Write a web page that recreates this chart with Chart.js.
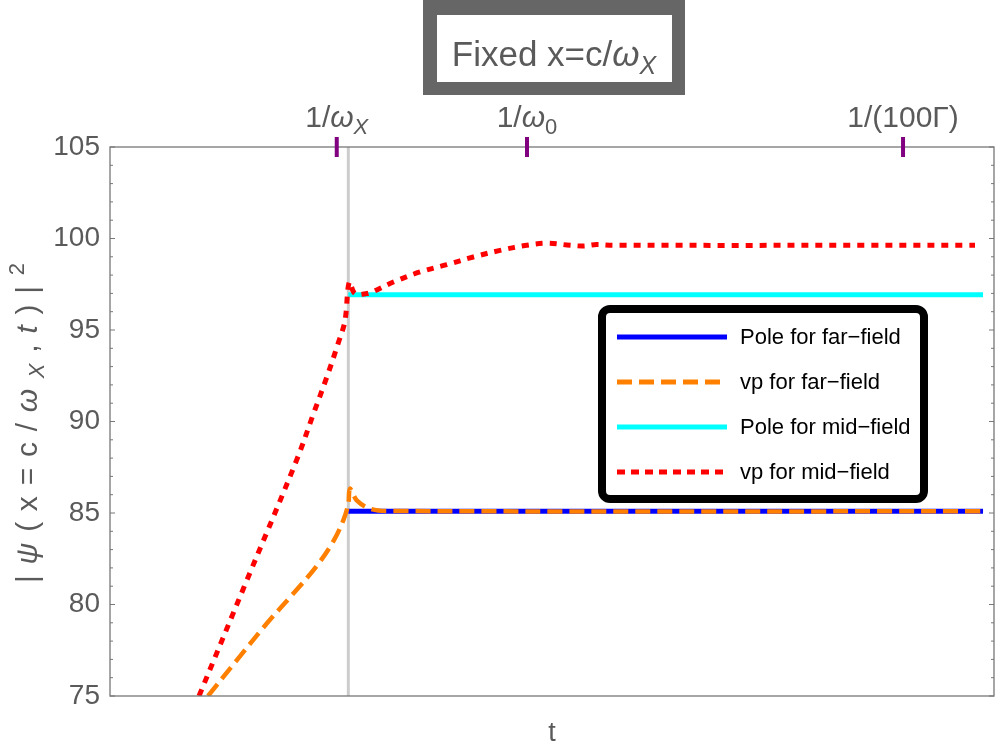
<!DOCTYPE html>
<html>
<head>
<meta charset="utf-8">
<script src="https://cdn.jsdelivr.net/npm/chart.js@4.4.1/dist/chart.umd.min.js"></script>
<style>
html, body { margin: 0; padding: 0; background: #fff; }
canvas { display: block; }
</style>
</head>
<body>
<canvas id="psi-chart" width="1000" height="749"></canvas>
<script>
// time in arbitrary units, 0..100 across the frame
const tVpMid = [10.07, 15.46, 21.12, 23.0, 24.51, 25.83, 26.58, 27.07, 27.71, 29.04, 29.79, 32.05, 35.07, 38.09, 41.1, 44.12, 47.14, 49.4, 52.04, 53.54, 55.06, 56.9, 97.85];
const vpMid  = [75.0, 81.3, 87.9, 90.4, 92.4, 94.3, 95.5, 97.62, 96.99, 96.99, 97.11, 97.62, 98.17, 98.57, 98.99, 99.35, 99.63, 99.74, 99.63, 99.59, 99.67, 99.63, 99.63];
const tVpFar = [11.09, 14.33, 17.73, 20.74, 23.38, 25.26, 26.39, 26.96, 27.15, 27.91, 29.41, 31.3, 98.76];
const vpFar  = [75.0, 76.95, 78.96, 80.6, 82.1, 83.45, 84.6, 85.51, 86.33, 85.69, 85.24, 85.11, 85.09];
const tPole = [26.96, 98.76];
const poleFar = [85.09, 85.09];
const poleMid = [96.93, 96.93];
const markerT = 26.96;
const yRange = [75, 105];

const seriesNames = ['Pole for far\u2212field', 'vp for far\u2212field', 'Pole for mid\u2212field', 'vp for mid\u2212field'];

// top frame ticks: 1/omega_X, 1/omega_0, 1/(100 Gamma)
const topTickT = [25.65, 47.17, 89.71];
const topTickLabels = [
  [['1/', 'n'], ['\u03c9', 'i'], ['X', 'isub']],
  [['1/', 'n'], ['\u03c9', 'i'], ['0', 'sub']],
  [['1/(100\u0393)', 'n']]
];
const titleText = [['Fixed x=c/', 'n'], ['\u03c9', 'i'], ['X', 'isub']];
const yTitleText = [['|', 'n'], ['\u03c8', 'i'], ['(', 'n'], ['x', 'n'], ['=', 'n'], ['c', 'n'], ['/', 'n'], ['\u03c9', 'i'], ['X', 'isub'], [',', 'n'], ['t', 'i'], [')', 'n'], ['|', 'n'], ['2', 'sup']];
const xTitleText = [['t', 'n']];

const FONT = "'Liberation Sans', Arial, sans-serif";
const GREY = '#5a5a5a';

function pts(xs, ys) {
  return xs.map((x, i) => ({ x: x, y: ys[i] }));
}

function segFont(style, size) {
  const small = style === 'sub' || style === 'isub' || style === 'sup';
  const it = style === 'i' || style === 'isub';
  return (it ? 'italic ' : '') + (small ? Math.round(size * 0.72) : size) + 'px ' + FONT;
}
function richWidth(ctx, segs, size, gap) {
  let w = 0;
  segs.forEach((s, i) => {
    ctx.font = segFont(s[1], size);
    w += ctx.measureText(s[0]).width + (i ? gap : 0);
  });
  return w;
}
function drawRich(ctx, segs, cx, y, size, gap) {
  gap = gap || 0;
  let x = cx - richWidth(ctx, segs, size, gap) / 2;
  ctx.textAlign = 'left';
  ctx.textBaseline = 'alphabetic';
  segs.forEach(s => {
    ctx.font = segFont(s[1], size);
    let dy = 0;
    if (s[1] === 'sub' || s[1] === 'isub') dy = size * 0.22;
    if (s[1] === 'sup') dy = -size * 0.45;
    ctx.fillText(s[0], x, y + dy);
    x += ctx.measureText(s[0]).width + gap;
  });
}

const decorations = {
  id: 'decorations',
  afterDraw(chart) {
    const ctx = chart.ctx;
    const a = chart.chartArea;
    const xs = chart.scales.x, ys = chart.scales.y;
    ctx.save();

    // frame
    ctx.strokeStyle = '#777';
    ctx.lineWidth = 1.3;
    ctx.strokeRect(a.left, a.top, a.right - a.left, a.bottom - a.top);

    // inward ticks on left and right
    ctx.lineWidth = 1;
    for (let v = yRange[0]; v <= yRange[1]; v++) {
      const py = ys.getPixelForValue(v);
      const len = v % 5 === 0 ? 5 : 3;
      ctx.beginPath();
      ctx.moveTo(a.left, py); ctx.lineTo(a.left + len, py);
      ctx.moveTo(a.right, py); ctx.lineTo(a.right - len, py);
      ctx.stroke();
    }

    // purple top ticks and labels
    ctx.strokeStyle = '#800080';
    ctx.lineWidth = 4;
    ctx.fillStyle = GREY;
    topTickT.forEach((t, i) => {
      const px = xs.getPixelForValue(t);
      ctx.beginPath();
      ctx.moveTo(px, a.top - 10); ctx.lineTo(px, a.top + 10);
      ctx.stroke();
      drawRich(ctx, topTickLabels[i], px, 127, 30);
    });

    // title box
    ctx.fillStyle = '#666';
    ctx.fillRect(423, -5, 262, 100);
    ctx.fillStyle = '#fff';
    ctx.fillRect(437, 15, 235, 67);
    ctx.fillStyle = GREY;
    drawRich(ctx, titleText, 554, 66, 35);

    // axis titles
    drawRich(ctx, xTitleText, 552, 741, 27);
    ctx.save();
    ctx.translate(37, 423);
    ctx.rotate(-Math.PI / 2);
    const natural = richWidth(ctx, yTitleText, 30, 0);
    const gap = (320 - natural) / (yTitleText.length - 1);
    drawRich(ctx, yTitleText, 0, 0, 30, gap);
    ctx.restore();

    // legend
    ctx.fillStyle = '#fff';
    ctx.strokeStyle = '#000';
    ctx.lineWidth = 8;
    ctx.beginPath();
    ctx.roundRect(602, 309, 322, 190, 8);
    ctx.fill();
    ctx.stroke();
    const rowsY = [337, 382, 427, 472];
    const legendDash = [[], [15, 7], [], [8, 6]];
    seriesNames.forEach((name, i) => {
      const ds = chart.data.datasets[i];
      ctx.strokeStyle = ds.borderColor;
      ctx.lineWidth = 5;
      ctx.setLineDash(legendDash[i]);
      ctx.beginPath();
      ctx.moveTo(617, rowsY[i]); ctx.lineTo(727, rowsY[i]);
      ctx.stroke();
      ctx.setLineDash([]);
      ctx.fillStyle = '#000';
      ctx.font = '22px ' + FONT;
      ctx.textAlign = 'left';
      ctx.textBaseline = 'middle';
      ctx.fillText(name, 740, rowsY[i] + 1);
    });

    ctx.restore();
  }
};

const ctx = document.getElementById('psi-chart').getContext('2d');
const psiChart = new Chart(ctx, {
  type: 'line',
  data: {
    datasets: [
      { label: seriesNames[0], data: pts(tPole, poleFar), borderColor: '#0000ff', borderWidth: 5, order: 4 },
      { label: seriesNames[1], data: pts(tVpFar, vpFar), borderColor: '#ff8000', borderWidth: 4.5, borderDash: [15, 7], order: 3, tension: 0.35 },
      { label: seriesNames[2], data: pts(tPole, poleMid), borderColor: '#00ffff', borderWidth: 5, order: 2 },
      { label: seriesNames[3], data: pts(tVpMid, vpMid), borderColor: '#ff0000', borderWidth: 5, borderDash: [7, 7], order: 1, tension: 0.35 },
      { label: 'marker', data: pts([markerT, markerT], yRange), borderColor: '#cccccc', borderWidth: 3, order: 10 }
    ]
  },
  options: {
    responsive: false,
    animation: false,
    events: [],
    elements: { point: { radius: 0 }, line: { fill: false } },
    layout: { padding: { left: 0, right: 6, top: 147, bottom: 53 } },
    plugins: { legend: { display: false }, tooltip: { enabled: false } },
    scales: {
      x: { type: 'linear', min: 0, max: 100, display: false },
      y: {
        min: yRange[0], max: yRange[1],
        afterFit(scale) { scale.width = 110; },
        grid: { display: false, drawTicks: false },
        border: { display: false },
        ticks: { stepSize: 5, padding: 10, color: GREY, font: { family: FONT, size: 28 } }
      }
    }
  },
  plugins: [decorations]
});
</script>
</body>
</html>
